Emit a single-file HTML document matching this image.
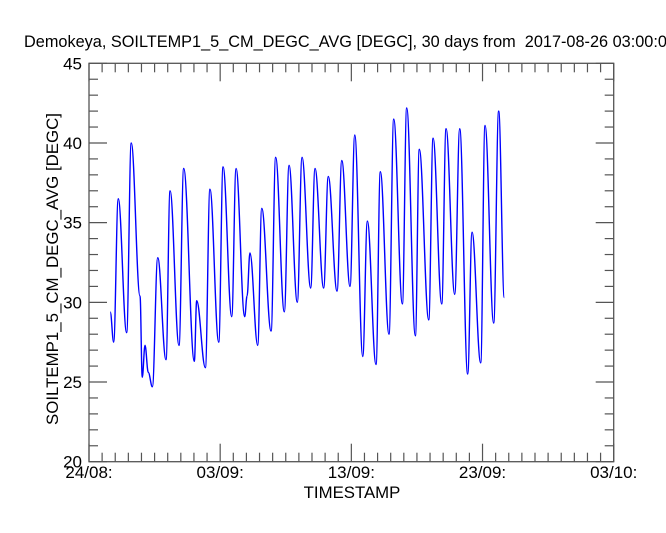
<!DOCTYPE html>
<html><head><meta charset="utf-8"><style>
html,body{margin:0;padding:0;background:#fff;}
svg{display:block;font-family:"Liberation Sans",Arial,sans-serif;}
</style></head><body>
<svg id="chart" width="666" height="533" viewBox="0 0 666 533" xmlns="http://www.w3.org/2000/svg">
<rect width="666" height="533" fill="#fff"/>
<text x="24" y="47" font-size="16.5" fill="#000" textLength="652" lengthAdjust="spacingAndGlyphs">Demokeya, SOILTEMP1_5_CM_DEGC_AVG [DEGC], 30 days from&#160; 2017-08-26 03:00:00</text>
<text transform="translate(58,269) rotate(-90)" text-anchor="middle" font-size="17" fill="#000" textLength="312" lengthAdjust="spacingAndGlyphs">SOILTEMP1_5_CM_DEGC_AVG [DEGC]</text>
<text x="352" y="498" text-anchor="middle" font-size="16.8" fill="#000">TIMESTAMP</text>
<g id="axes"></g>
<g id="series"></g>
</svg>
<script>
// Data: day offsets from 24/08 00:00 and soil temperature values (extrema)
const days = [1.62,1.88,2.23,2.87,3.22,3.89,4.06,4.27,4.52,4.83,5.24,5.87,6.18,6.86,7.22,8.03,8.21,8.87,9.22,9.89,10.22,10.88,11.21,11.87,12.05,12.27,12.86,13.17,13.88,14.23,14.89,15.25,15.88,16.24,16.90,17.23,17.89,18.24,18.91,19.27,19.90,20.26,20.87,21.22,21.88,22.21,22.87,23.23,23.89,24.22,24.88,25.18,25.90,26.23,26.89,27.22,27.88,28.26,28.87,29.20,29.86,30.19,30.85,31.23,31.66];
const temps = [29.4,27.5,36.5,28.1,40.0,30.4,25.3,27.3,25.6,24.7,32.8,26.4,37.0,27.3,38.4,26.3,30.1,25.9,37.1,27.5,38.5,29.1,38.4,29.1,30.4,33.1,27.3,35.9,28.2,39.1,29.4,38.6,30.0,39.1,30.9,38.4,30.9,37.9,30.7,38.9,31.0,40.5,26.6,35.1,26.1,38.2,28.0,41.5,29.9,42.2,27.9,39.6,28.9,40.3,29.9,40.9,30.5,40.9,25.5,34.4,26.2,41.1,28.7,42.0,30.3];
const yTicks = [20,25,30,35,40,45];
const xTickLabels = ["24/08:","03/09:","13/09:","23/09:","03/10:"];
const xTickDays = [0,10,20,30,40];

const L=89, R=613.7, T=63.3, B=461.7;
const dayMax=40, yMin=20, yMax=45;
const xs = d => L + (R-L)*d/dayMax;
const ys = v => B - (B-T)*(v-yMin)/(yMax-yMin);
const NS="http://www.w3.org/2000/svg";
const axes=document.getElementById('axes');
const series=document.getElementById('series');
function mk(tag, attrs, parent){const e=document.createElementNS(NS,tag);for(const k in attrs)e.setAttribute(k,attrs[k]);parent.appendChild(e);return e;}

const frame=mk('rect',{x:L,y:T,width:R-L,height:B-T,fill:'none',stroke:'#555','stroke-width':1.3},axes);



for(let d=0; d<=dayMax; d++){
  const major = d%10===0;
  const len = major?18:9;
  const x=xs(d);
  const tb=mk('line',{x1:x,x2:x,y1:B,y2:B-len,stroke:'#555','stroke-width':1.2},axes);
  
  
  const tt=mk('line',{x1:x,x2:x,y1:T,y2:T+len,stroke:'#555','stroke-width':1.2},axes);
  
  
}
xTickDays.forEach((d,i)=>{
  const t=mk('text',{x:xs(d),y:478,'text-anchor':'middle','font-size':17,fill:'#000'},axes);
  t.textContent=xTickLabels[i];
  
  
});
for(let v=yMin; v<=yMax; v++){
  const major=v%5===0, len=major?18:9, y=ys(v);
  const tl=mk('line',{x1:L,x2:L+len,y1:y,y2:y,stroke:'#555','stroke-width':1.2},axes);
  
  
  const tr=mk('line',{x1:R,x2:R-len,y1:y,y2:y,stroke:'#555','stroke-width':1.2},axes);
  
  
}
yTicks.forEach(v=>{
  const t=mk('text',{x:82,y:ys(v)+6,'text-anchor':'end','font-size':17,fill:'#000'},axes);
  t.textContent=String(v);
  
  
});
let d='M'+xs(days[0]).toFixed(2)+','+ys(temps[0]).toFixed(2);
for(let i=1;i<days.length;i++){
  const x0=xs(days[i-1]), y0=ys(temps[i-1]), x1=xs(days[i]), y1=ys(temps[i]);
  const dx=(x1-x0)/2.6;
  d+=' C'+(x0+dx).toFixed(2)+','+y0.toFixed(2)+' '+(x1-dx).toFixed(2)+','+y1.toFixed(2)+' '+x1.toFixed(2)+','+y1.toFixed(2);
}
const p=mk('path',{d:d,fill:'none',stroke:'#0000ff','stroke-width':1.4,'stroke-linejoin':'round'},series);


</script>
</body></html>
